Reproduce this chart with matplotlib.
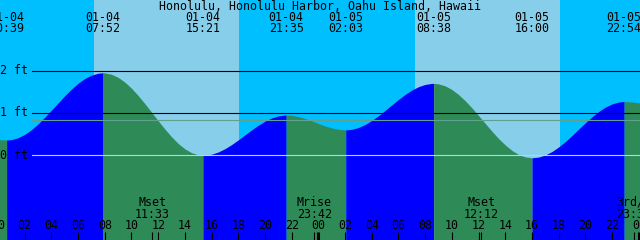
import matplotlib
matplotlib.use("Agg")
import matplotlib.pyplot as plt
from matplotlib.transforms import blended_transform_factory

# ---------------- data ----------------
title = "Honolulu, Honolulu Harbor, Oahu Island, Hawaii"

# tide extremes (hours from 01-04 00:00)
event_hours = [0.65, 7.867, 15.35, 21.583, 26.05, 32.633, 40.0, 46.9]
event_heights = [0.36, 1.95, 0.0, 0.95, 0.60, 1.70, -0.06, 1.27]
event_dates = ["01-04", "01-04", "01-04", "01-04", "01-05", "01-05", "01-05", "01-05"]
event_times = ["00:39", "07:52", "15:21", "21:35", "02:03", "08:38", "16:00", "22:54"]

# tide curve samples (hour, ft)
sample_hours = [0, 0.3, 0.65, 1, 1.5, 2, 2.5, 3, 3.5, 4,
                4.5, 5, 5.5, 6, 6.5, 7, 7.5, 7.867, 8, 8.5,
                9, 9.5, 10, 10.5, 11, 11.5, 12, 12.5, 13, 13.5,
                14, 14.5, 15, 15.35, 15.5, 16, 16.5, 17, 17.5, 18,
                18.5, 19, 19.5, 20, 20.5, 21, 21.5, 21.583, 22, 22.5,
                23, 23.5, 24, 24.5, 25, 25.5, 26, 26.05, 26.5, 27,
                27.5, 28, 28.5, 29, 29.5, 30, 30.5, 31, 31.5, 32,
                32.5, 32.633, 33, 33.5, 34, 34.5, 35, 35.5, 36, 36.5,
                37, 37.5, 38, 38.5, 39, 39.5, 40, 40.5, 41, 41.5,
                42, 42.5, 43, 43.5, 44, 44.5, 45, 45.5, 46, 46.5,
                46.9, 47, 47.5, 48, 48.2]
tide_ft = [0.37, 0.365, 0.36, 0.369, 0.414, 0.493, 0.604, 0.741, 0.898, 1.066,
           1.238, 1.408, 1.564, 1.703, 1.814, 1.894, 1.940, 1.95, 1.948, 1.916,
           1.842, 1.730, 1.585, 1.412, 1.221, 1.019, 0.816, 0.619, 0.438, 0.278,
           0.152, 0.061, 0.011, 0.0, 0.001, 0.025, 0.078, 0.155, 0.253, 0.364,
           0.483, 0.601, 0.711, 0.807, 0.881, 0.930, 0.950, 0.95, 0.943, 0.915,
           0.870, 0.814, 0.752, 0.694, 0.646, 0.613, 0.600, 0.60, 0.613, 0.656,
           0.727, 0.822, 0.935, 1.061, 1.192, 1.320, 1.439, 1.542, 1.622, 1.675,
           1.699, 1.70, 1.689, 1.641, 1.555, 1.435, 1.288, 1.120, 0.938, 0.751,
           0.567, 0.394, 0.243, 0.114, 0.018, -0.040, -0.06, -0.043, 0.008, 0.089,
           0.197, 0.326, 0.470, 0.620, 0.770, 0.911, 1.036, 1.139, 1.215, 1.259,
           1.27, 1.269, 1.26, 1.24, 1.23]

sunrise_hours = [7.2, 31.2]
sunset_hours = [18.08, 42.08]

moon_hours = [11.55, 23.7, 36.2, 47.633]
moon_names = ["Mset", "Mrise", "Mset", "3rd/4"]
moon_times = ["11:33", "23:42", "12:12", "23:38"]

hour_ticks = list(range(0, 49, 2))
hour_labels = ["%02d" % (h % 24) for h in hour_ticks]

level_values = [2, 1, 0]
level_labels = ["2 ft", "1 ft", "0 ft"]
mean_level = 0.83

# ---------------- styling ----------------
W, H = 640, 240
NIGHT = "#00BFFF"
DAY = "#87CEEB"
RISE = "#0000FF"
FALL = "#2E8B57"
FONT = "DejaVu Sans Mono"
FS = 8.4

fig = plt.figure(figsize=(W / 100, H / 100), dpi=100)
ax = fig.add_axes([0, 0, 1, 1])
x0, x1 = 0.15, 48.09
y0, y1 = -2.003, 3.671
ax.set_xlim(x0, x1)
ax.set_ylim(y0, y1)
ax.axis("off")
ax.add_patch(plt.Rectangle((0, 0), 1, 1, transform=ax.transAxes, color=NIGHT, zorder=0))

for sr, ss in zip(sunrise_hours, sunset_hours):
    ax.axvspan(sr, ss, color=DAY, lw=0, zorder=0.5)

# fill tide curve by rising/falling segments
bounds = [sample_hours[0]] + event_hours + [sample_hours[-1]]
for i in range(len(bounds) - 1):
    a, b = bounds[i], bounds[i + 1]
    xs = [h for h in sample_hours if a <= h <= b]
    ys = [v for h, v in zip(sample_hours, tide_ft) if a <= h <= b]
    rising = ys[-1] > ys[0]
    ax.fill_between(xs, ys, y0, color=RISE if rising else FALL, lw=0, zorder=1)

trx = blended_transform_factory(ax.transData, ax.transAxes)
try_ = blended_transform_factory(ax.transAxes, ax.transData)

def ypx(p):
    return 1 - p / H

# level lines
xstart = 32 / W
line_colors = ["black", "black", "#a8dcec"]
for lv, c in zip(level_values, line_colors):
    ax.plot([xstart, 1], [lv, lv], color=c, lw=0.8, transform=try_, zorder=3)
ax.plot([xstart, 1], [mean_level, mean_level], color="#5fa090", lw=0.8,
        transform=try_, zorder=3)
for lv, lab in zip(level_values, level_labels):
    ax.text(0, lv, lab, transform=try_, ha="left", va="center", family=FONT,
            fontsize=FS, color="black", zorder=4)

# top labels
ax.text(0.5, ypx(6), title, transform=ax.transAxes, ha="center", va="center",
        family=FONT, fontsize=FS, zorder=4)
for h, d, t in zip(event_hours, event_dates, event_times):
    ax.text(h, ypx(17.5), d, transform=trx, ha="center", va="center", family=FONT,
            fontsize=FS, zorder=4)
    ax.text(h, ypx(29), t, transform=trx, ha="center", va="center", family=FONT,
            fontsize=FS, zorder=4)

# bottom hour ticks
for h, lab in zip(hour_ticks, hour_labels):
    ax.text(h, ypx(225.5), lab, transform=trx, ha="center", va="center", family=FONT,
            fontsize=FS, zorder=4)
    lw = 2.2 if h % 24 == 0 else 0.8
    ax.plot([h, h], [ypx(231.5), 0], color="black", lw=lw, transform=trx,
            solid_capstyle="butt", zorder=4)

# moon events
for h, n, t in zip(moon_hours, moon_names, moon_times):
    ax.text(h, ypx(202), n, transform=trx, ha="center", va="center", family=FONT,
            fontsize=FS, zorder=4)
    ax.text(h, ypx(214), t, transform=trx, ha="center", va="center", family=FONT,
            fontsize=FS, zorder=4)
    ax.plot([h, h], [ypx(231.5), 0], color="black", lw=0.8, transform=trx,
            solid_capstyle="butt", zorder=4)

fig.savefig("out.png", dpi=100)
